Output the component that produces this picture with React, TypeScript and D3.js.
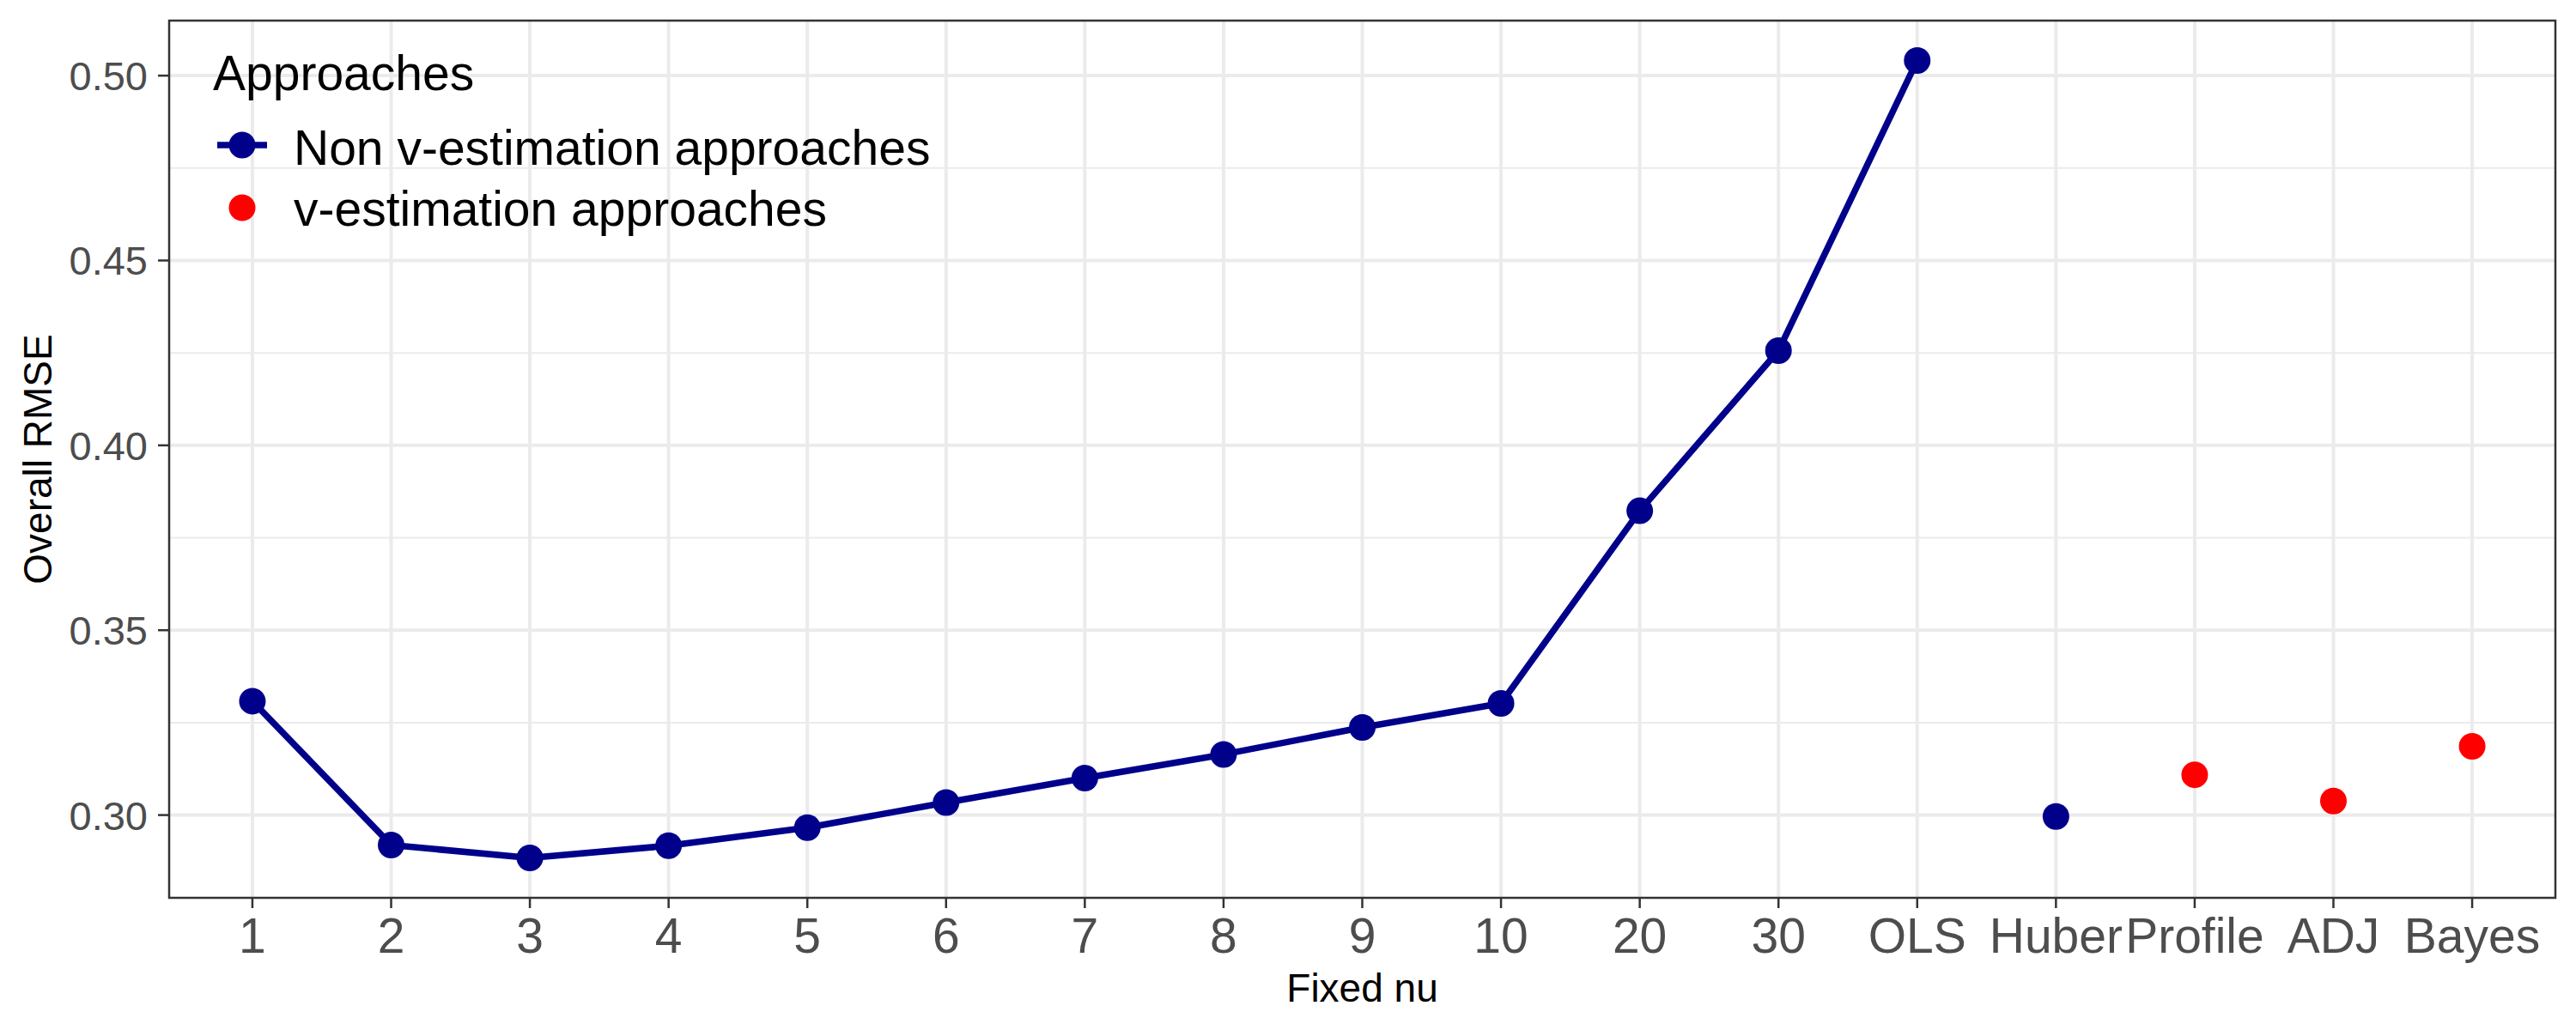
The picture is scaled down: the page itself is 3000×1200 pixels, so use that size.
import React from "react";
import * as d3 from "d3";

const categories = ["1", "2", "3", "4", "5", "6", "7", "8", "9", "10", "20", "30", "OLS", "Huber", "Profile", "ADJ", "Bayes"];
const lineCategories = ["1", "2", "3", "4", "5", "6", "7", "8", "9", "10", "20", "30", "OLS"];
const lineValues = [0.3308, 0.2919, 0.2884, 0.2917, 0.2966, 0.3034, 0.31, 0.3164, 0.3237, 0.3302, 0.3823, 0.4256, 0.5041];
const nonVCategories = ["Huber"];
const nonVValues = [0.2996];
const vEstCategories = ["Profile", "ADJ", "Bayes"];
const vEstValues = [0.3109, 0.3038, 0.3186];
const yTicks = [0.3, 0.35, 0.4, 0.45, 0.5];
const yMinorTicks = [0.325, 0.375, 0.425, 0.475];
const legendLabels = ["Non v-estimation approaches", "v-estimation approaches"];

const W = 3000;
const H = 1200;
const panel = { left: 197, right: 2976, top: 24, bottom: 1046 };
const NAVY = "#00008B";
const RED = "#FF0000";
const FONT = "'Liberation Sans', Arial, Helvetica, sans-serif";

export default function App() {
  const all = [...lineValues, ...nonVValues, ...vEstValues];
  const lo = d3.min(all)!;
  const hi = d3.max(all)!;
  const pad = (hi - lo) * 0.05;
  const y = d3.scaleLinear().domain([lo - pad, hi + pad]).range([panel.bottom, panel.top]);
  const x = d3.scalePoint<string>().domain(categories).range([panel.left, panel.right]).padding(0.6);

  const line = d3
    .line<number>()
    .x((_, i) => x(lineCategories[i])!)
    .y((d) => y(d));

  const r = 15.5;
  const lw = 7.5;

  return (
    <svg width={W} height={H} style={{ position: "absolute", left: 0, top: 0, background: "#fff" }}>
      <rect x={0} y={0} width={W} height={H} fill="#fff" />
      {/* grid */}
      {yMinorTicks.map((t) => (
        <line key={"ym" + t} x1={panel.left} x2={panel.right} y1={y(t)} y2={y(t)} stroke="#EBEBEB" strokeWidth={2} />
      ))}
      {yTicks.map((t) => (
        <line key={"yg" + t} x1={panel.left} x2={panel.right} y1={y(t)} y2={y(t)} stroke="#EBEBEB" strokeWidth={4} />
      ))}
      {categories.map((c) => (
        <line key={"xg" + c} x1={x(c)} x2={x(c)} y1={panel.top} y2={panel.bottom} stroke="#EBEBEB" strokeWidth={4} />
      ))}
      {/* data line */}
      <path d={line(lineValues) || ""} fill="none" stroke={NAVY} strokeWidth={lw} strokeLinejoin="round" />
      {lineValues.map((v, i) => (
        <circle key={"lp" + i} cx={x(lineCategories[i])} cy={y(v)} r={r} fill={NAVY} />
      ))}
      {nonVValues.map((v, i) => (
        <circle key={"nv" + i} cx={x(nonVCategories[i])} cy={y(v)} r={r} fill={NAVY} />
      ))}
      {vEstValues.map((v, i) => (
        <circle key={"ve" + i} cx={x(vEstCategories[i])} cy={y(v)} r={r} fill={RED} />
      ))}
      {/* panel border */}
      <rect
        x={panel.left}
        y={panel.top}
        width={panel.right - panel.left}
        height={panel.bottom - panel.top}
        fill="none"
        stroke="#333333"
        strokeWidth={2.5}
      />
      {/* y axis ticks */}
      {yTicks.map((t) => (
        <g key={"yt" + t}>
          <line x1={panel.left - 13} x2={panel.left} y1={y(t)} y2={y(t)} stroke="#333333" strokeWidth={2.5} />
          <text
            x={panel.left - 25}
            y={y(t)}
            dy="0.36em"
            textAnchor="end"
            fontFamily={FONT}
            fontSize={47}
            fill="#4D4D4D"
          >
            {d3.format(".2f")(t)}
          </text>
        </g>
      ))}
      {/* x axis ticks */}
      {categories.map((c) => (
        <g key={"xt" + c}>
          <line x1={x(c)} x2={x(c)} y1={panel.bottom} y2={panel.bottom + 12} stroke="#333333" strokeWidth={2.5} />
          <text x={x(c)} y={1110} textAnchor="middle" fontFamily={FONT} fontSize={57} fill="#4D4D4D">
            {c}
          </text>
        </g>
      ))}
      {/* axis titles */}
      <text
        x={(panel.left + panel.right) / 2}
        y={1167}
        textAnchor="middle"
        fontFamily={FONT}
        fontSize={46}
        fill="#000"
      >
        Fixed nu
      </text>
      <text
        transform={`translate(60, ${(panel.top + panel.bottom) / 2}) rotate(-90)`}
        textAnchor="middle"
        fontFamily={FONT}
        fontSize={46}
        fill="#000"
      >
        Overall RMSE
      </text>
      {/* legend */}
      <text x={248} y={105} fontFamily={FONT} fontSize={57} fill="#000">
        Approaches
      </text>
      <line x1={253} x2={311} y1={169} y2={169} stroke={NAVY} strokeWidth={lw} />
      <circle cx={282} cy={169} r={r} fill={NAVY} />
      <text x={342} y={192} fontFamily={FONT} fontSize={57} fill="#000">
        {legendLabels[0]}
      </text>
      <circle cx={282} cy={242} r={r} fill={RED} />
      <text x={342} y={263} fontFamily={FONT} fontSize={57} fill="#000">
        {legendLabels[1]}
      </text>
    </svg>
  );
}
